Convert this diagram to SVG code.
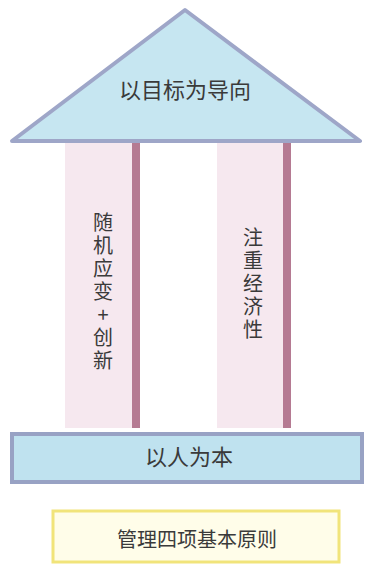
<svg xmlns="http://www.w3.org/2000/svg" width="372" height="570" viewBox="0 0 372 570">
<style>
.t{font-family:"Noto Sans CJK SC","Noto Sans",sans-serif;fill:#3a3a3a;text-anchor:middle}
.v{font-family:"Noto Sans CJK SC","Noto Sans",sans-serif;fill:#3a3a3a;writing-mode:vertical-rl;text-orientation:upright;font-size:20px;letter-spacing:3px}
.pil{fill:#f6e8ef}
.str{fill:#b57a92}
</style>
<rect width="372" height="570" fill="#ffffff"/>
<g id="pillar-left">
<rect class="pil" x="65" y="142" width="70" height="286"/>
<rect class="str" x="132" y="142" width="8" height="286"/>
<text class="v" x="103" y="212">随机应变+创新</text>
</g>
<g id="pillar-right">
<rect class="pil" x="217" y="142" width="68" height="286"/>
<rect class="str" x="283" y="142" width="8" height="286"/>
<text class="v" x="253" y="227">注重经济性</text>
</g>
<g id="roof">
<polygon points="185,10 360,141 12,141" fill="#c6e6f1" stroke="#9ea6c8" stroke-width="4" stroke-linejoin="round"/>
<text class="t" x="185" y="98" font-size="22">以目标为导向</text>
</g>
<g id="base">
<rect x="12" y="434" width="350" height="48" fill="#bfe2ef" stroke="#98a2c4" stroke-width="4"/>
<text class="t" x="189" y="465" font-size="22">以人为本</text>
</g>
<g id="title">
<rect x="53" y="511" width="286" height="51" fill="#fffde9" stroke="#f1e47a" stroke-width="3"/>
<text class="t" x="197" y="547" font-size="20">管理四项基本原则</text>
</g>
</svg>
